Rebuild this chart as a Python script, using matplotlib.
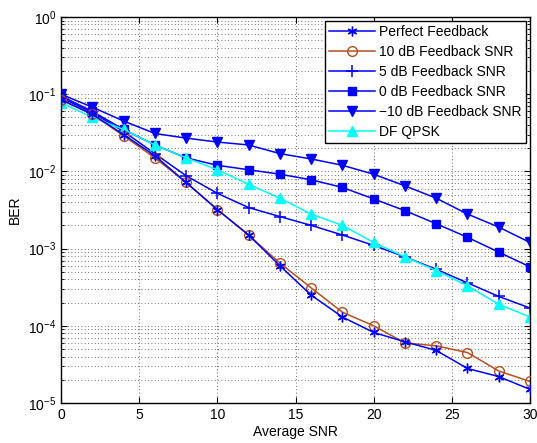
import numpy as np
import matplotlib
matplotlib.use('Agg')
from matplotlib import pyplot as plt
from matplotlib.ticker import LogLocator, NullFormatter

plt.rcParams['font.family'] = ['Liberation Sans', 'DejaVu Sans']

snr = [0, 2, 4, 6, 8, 10, 12, 14, 16, 18, 20, 22, 24, 26, 28, 30]

ber_perfect = [0.085, 0.055, 0.030, 0.016, 0.0072, 0.0032, 0.0015, 0.0006, 0.00025,
               0.00013, 0.000082, 0.000062, 0.000048, 0.000028, 0.000022, 0.000015]
ber_10db = [0.085, 0.055, 0.029, 0.015, 0.0072, 0.0032, 0.0015, 0.00065, 0.00031,
            0.00015, 0.0001, 0.00006, 0.000055, 0.000045, 0.000026, 0.000019]
ber_5db = [0.09, 0.058, 0.033, 0.017, 0.0088, 0.0052, 0.0034, 0.0026, 0.002,
           0.0015, 0.0011, 0.00078, 0.00054, 0.00036, 0.00024, 0.00017]
ber_0db = [0.095, 0.06, 0.035, 0.022, 0.015, 0.012, 0.0105, 0.0092, 0.0078,
           0.0062, 0.0044, 0.0031, 0.0021, 0.0014, 0.0009, 0.00058]
ber_m10db = [0.1, 0.068, 0.045, 0.031, 0.027, 0.024, 0.022, 0.017, 0.0145,
             0.012, 0.0092, 0.0065, 0.0045, 0.0028, 0.0019, 0.0012]
ber_df = [0.078, 0.05, 0.035, 0.022, 0.015, 0.0105, 0.0068, 0.0045, 0.0028,
          0.002, 0.0012, 0.00078, 0.00052, 0.00033, 0.00019, 0.00013]

labels = ['Perfect Feedback', '10 dB Feedback SNR', '5 dB Feedback SNR',
          '0 dB Feedback SNR', '\u221210 dB Feedback SNR', 'DF QPSK']

blue = '#0000FF'
brown = '#B5501E'
cyan = '#00FFFF'

fig = plt.figure(figsize=(5.37, 4.43), dpi=100)
ax = fig.add_axes([0.1136, 0.0903, 0.8734, 0.8713])

# matlab style asterisk
ax.semilogy(snr, ber_perfect, color=blue, marker=(6, 2, 0), ms=7, mew=1.0, lw=1.1,
            label=labels[0], zorder=6)
ax.semilogy(snr, ber_10db, color=brown, marker='o', ms=7, mfc='none', mew=1.0, lw=1.1,
            label=labels[1], zorder=5)
ax.semilogy(snr, ber_5db, color=blue, marker='+', ms=8, mew=1.1, lw=1.1, label=labels[2])
ax.semilogy(snr, ber_0db, color=blue, marker='s', ms=6, lw=1.1, label=labels[3])
ax.semilogy(snr, ber_m10db, color=blue, marker='v', ms=7.5, lw=1.1, label=labels[4])
ax.semilogy(snr, ber_df, color=cyan, marker='^', ms=7.5, lw=1.1, label=labels[5])

ax.set_xlim(0, 30)
ax.set_ylim(1e-5, 1)
ax.set_xticks([0, 5, 10, 15, 20, 25, 30])
ax.yaxis.set_major_locator(LogLocator(base=10, numticks=10))
ax.yaxis.set_minor_locator(LogLocator(base=10, subs=np.arange(2, 10), numticks=10))
ax.yaxis.set_minor_formatter(NullFormatter())

ax.grid(True, which='major', ls=(0, (1, 3)), color='#444444', lw=0.6)
ax.grid(True, which='minor', axis='y', ls=(0, (1, 3)), color='#444444', lw=0.6)

ax.tick_params(which='both', direction='in', top=True, right=True, labelsize=10)
ax.tick_params(which='major', length=4)
ax.tick_params(which='minor', length=2)
for s in ax.spines.values():
    s.set_linewidth(1.0)

ax.set_xlabel('Average SNR', fontsize=10, labelpad=2)
ax.set_ylabel('BER', fontsize=10, labelpad=4)

leg = ax.legend(loc='upper right', fontsize=10, handlelength=3.3, borderaxespad=0.3,
                labelspacing=0.42, fancybox=False, edgecolor='black', framealpha=1,
                borderpad=0.3, handletextpad=0.3)
leg.get_frame().set_linewidth(1.0)

fig.savefig('out.png', dpi=100)
